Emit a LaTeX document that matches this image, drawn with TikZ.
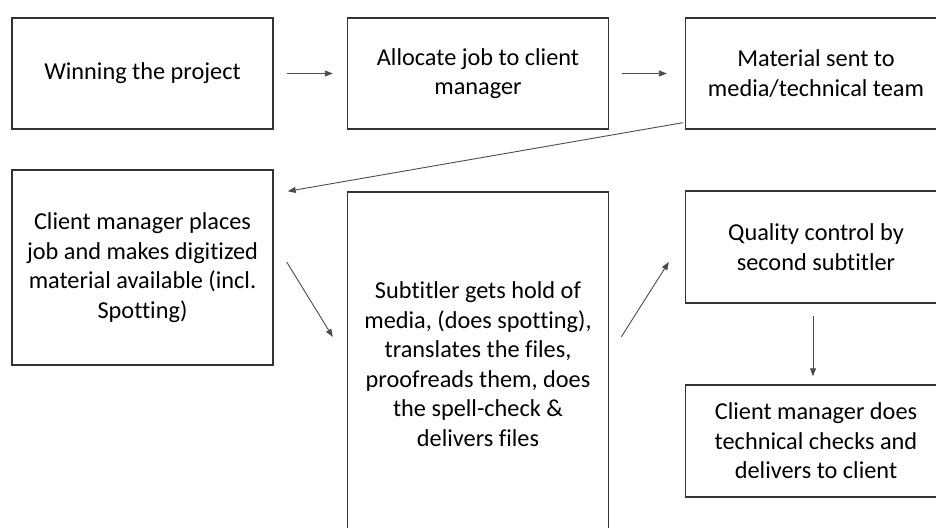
\documentclass[tikz,border=0pt]{standalone}
\usepackage{fontspec}
\setmainfont{Carlito}[Ligatures=NoCommon]
\usetikzlibrary{arrows.meta}
\begin{document}
\begin{tikzpicture}[x=1pt,y=1pt,
  stepbox/.style={draw=black!80, line width=1.4pt, rectangle, inner sep=0pt,
    minimum width=261pt, align=center, text=black,
    font=\fontsize{24.3}{29.5}\selectfont},
  arr/.style={draw=black!70, line width=0.9pt,
    -{Triangle[length=8pt,width=6pt]}}]
\useasboundingbox (0,0) rectangle (936,527);
\fill[white] (0,0) rectangle (936,527);
\clip (0,0) rectangle (936,527);

% top row
\node[stepbox, minimum height=111pt] (b1) at (142.5,453.5) {Winning the project};
\node[stepbox, minimum height=111pt] (b2) at (478,453.5) {Allocate job to client\\manager};
\node[stepbox, minimum height=111pt] (b3) at (816,453.5) {Material sent to\\media/technical team};

% lower rows
\node[stepbox, minimum height=195pt] (b4) at (142.5,259.5)
  {Client manager places\\job and makes digitized\\material available (incl.\\Spotting)};
\node[stepbox, minimum height=344pt] (b5) at (478,163)
  {Subtitler gets hold of\\media, (does spotting),\\translates the files,\\proofreads them, does\\the spell-check \&\\delivers files};
\node[stepbox, minimum height=112pt] (b6) at (816,280) {Quality control by\\second subtitler};
\node[stepbox, minimum height=112pt] (b7) at (816,86)
  {Client manager does\\technical checks and\\delivers to client};

% connectors
\draw[arr, shorten <=13pt, shorten >=14pt] (b1.east) -- (b2.west);
\draw[arr, shorten <=13pt, shorten >=18pt] (b2.east) -- (b3.west);
\draw[arr] ([shift={(-2,7)}]b3.south west) -- ([shift={(14,-22)}]b4.north east);
\draw[arr] ([shift={(13,5.5)}]b4.east) -- ([shift={(-14,27)}]b5.west);
\draw[arr] ([shift={(12,27)}]b5.east) -- ([shift={(-16,-15)}]b6.west);
\draw[arr] ([shift={(-3,-12)}]b6.south) -- ([shift={(-3,8)}]b7.north);
\end{tikzpicture}
\end{document}
